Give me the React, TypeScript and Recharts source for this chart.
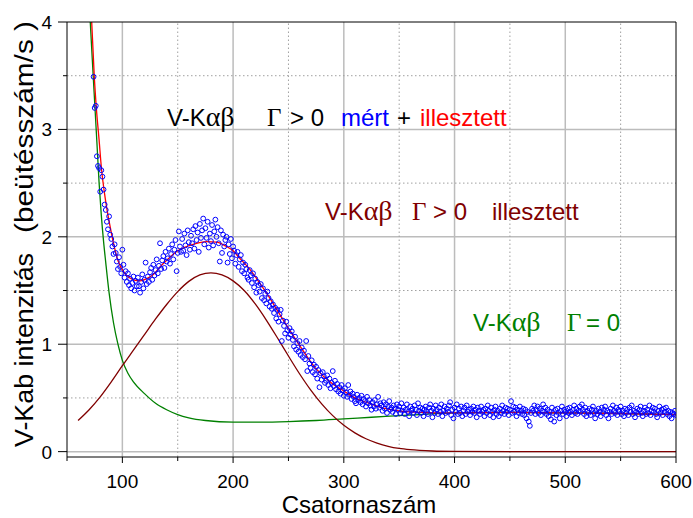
import React from 'react'
import {
  ComposedChart,
  Line,
  Scatter,
  XAxis,
  YAxis,
  CartesianGrid,
} from 'recharts'

// measured counts, one value per channel starting at channel 74
const measuredStart = 74
const measured = [
  3.49, 3.2, 3.22, 2.75, 2.66, 2.64, 2.42, 2.62, 2.56, 2.44,
  2.3, 2.25, 2.14, 2.07, 2.19, 2.02, 1.98, 1.91, 1.84, 1.93,
  1.85, 1.77, 1.7, 1.81, 1.72, 1.66, 1.88, 1.74, 1.62, 1.68,
  1.58, 1.66, 1.55, 1.61, 1.52, 1.57, 1.63, 1.5, 1.59, 1.54,
  1.62, 1.54, 1.48, 1.58, 1.65, 1.52, 1.6, 1.76, 1.56, 1.63,
  1.58, 1.67, 1.71, 1.6, 1.74, 1.64, 1.69, 1.79, 1.66, 1.73,
  1.94, 1.7, 1.78, 1.82, 1.71, 1.86, 1.77, 1.8, 1.89, 1.75,
  1.84, 1.93, 1.79, 1.88, 1.97, 1.68, 1.85, 2.05, 1.91, 1.86,
  1.98, 1.87, 2.03, 1.92, 1.83, 2.06, 1.95, 1.88, 2.01, 1.94,
  2.07, 1.89, 2.1, 1.97, 2.04, 1.86, 2.12, 1.99, 2.06, 2.17,
  1.93, 2.08, 1.99, 2.14, 1.9, 2.03, 1.96, 2.11, 1.92, 2.05,
  2.16, 2.0, 2.09, 1.94, 1.77, 2.06, 1.85, 2.02, 1.91, 1.97,
  2.0, 1.76, 1.93, 1.84, 1.98, 1.8, 1.91, 1.87, 1.75, 1.83,
  1.86, 1.72, 1.79, 1.83, 1.68, 1.76, 1.66, 1.74, 1.7, 1.62,
  1.6, 1.69, 1.64, 1.57, 1.66, 1.53, 1.61, 1.48, 1.58, 1.55,
  1.49, 1.56, 1.43, 1.52, 1.41, 1.47, 1.38, 1.49, 1.43, 1.35,
  1.4, 1.33, 1.37, 1.29, 1.34, 1.24, 1.32, 1.21, 1.28, 1.32,
  1.03, 1.22, 1.17, 1.1, 1.21, 1.13, 1.06, 1.15, 1.09, 1.12,
  1.04, 0.98, 1.07, 0.95, 1.01, 0.93, 1.03, 0.9, 0.97, 0.88,
  0.94, 0.86, 1.03, 0.75, 0.89, 0.82, 0.78, 0.85, 0.74, 0.81,
  0.72, 0.79, 0.68, 0.76, 0.6, 0.73, 0.67, 0.74, 0.7, 0.64,
  0.66, 0.71, 0.62, 0.68, 0.59, 0.64, 0.75, 0.61, 0.66, 0.58,
  0.63, 0.56, 0.6, 0.54, 0.62, 0.57, 0.52, 0.59, 0.55, 0.51,
  0.62, 0.53, 0.56, 0.49, 0.54, 0.51, 0.47, 0.45, 0.53, 0.48,
  0.5, 0.46, 0.52, 0.44, 0.49, 0.47, 0.42, 0.51, 0.45, 0.48,
  0.43, 0.39, 0.46, 0.42, 0.48, 0.4, 0.44, 0.51, 0.41, 0.45,
  0.43, 0.38, 0.46, 0.4, 0.44, 0.36, 0.42, 0.47, 0.39, 0.41,
  0.37, 0.43, 0.4, 0.35, 0.44, 0.39, 0.42, 0.36, 0.45, 0.38,
  0.41, 0.35, 0.39, 0.44, 0.37, 0.33, 0.42, 0.38, 0.4, 0.36,
  0.43, 0.39, 0.34, 0.45, 0.38, 0.41, 0.36, 0.4, 0.33, 0.39,
  0.42, 0.37, 0.35, 0.41, 0.44, 0.38, 0.32, 0.4, 0.36, 0.43,
  0.39, 0.35, 0.41, 0.37, 0.44, 0.33, 0.38, 0.42, 0.36, 0.4,
  0.37, 0.43, 0.46, 0.34, 0.39, 0.31, 0.41, 0.37, 0.44, 0.35,
  0.4, 0.36, 0.42, 0.33, 0.38, 0.41, 0.35, 0.43, 0.37, 0.39,
  0.34, 0.4, 0.37, 0.42, 0.36, 0.39, 0.32, 0.41, 0.38, 0.35,
  0.42, 0.37, 0.39, 0.33, 0.4, 0.36, 0.43, 0.38, 0.34, 0.41,
  0.37, 0.32, 0.39, 0.42, 0.35, 0.38, 0.33, 0.4, 0.36, 0.43,
  0.38, 0.35, 0.41, 0.37, 0.4, 0.34, 0.39, 0.47, 0.36, 0.42,
  0.37, 0.41, 0.33, 0.39, 0.36, 0.42, 0.38, 0.35, 0.4, 0.34,
  0.39, 0.31, 0.37, 0.28, 0.24, 0.36, 0.4, 0.38, 0.43, 0.35,
  0.39, 0.42, 0.36, 0.4, 0.34, 0.38, 0.44, 0.37, 0.41, 0.35,
  0.39, 0.33, 0.37, 0.3, 0.41, 0.36, 0.28, 0.39, 0.34, 0.4,
  0.36, 0.31, 0.38, 0.42, 0.35, 0.39, 0.37, 0.33, 0.4, 0.36,
  0.41, 0.37, 0.34, 0.39, 0.43, 0.36, 0.4, 0.35, 0.38, 0.42,
  0.37, 0.44, 0.39, 0.35, 0.41, 0.33, 0.38, 0.36, 0.4, 0.34,
  0.39, 0.42, 0.36, 0.31, 0.38, 0.35, 0.4, 0.37, 0.33, 0.41,
  0.36, 0.39, 0.42, 0.34, 0.38, 0.31, 0.37, 0.4, 0.35, 0.43,
  0.38, 0.36, 0.41, 0.34, 0.39, 0.37, 0.42, 0.35, 0.38, 0.33,
  0.4, 0.36, 0.39, 0.34, 0.41, 0.37, 0.43, 0.35, 0.38, 0.32,
  0.37, 0.4, 0.35, 0.39, 0.42, 0.36, 0.33, 0.38, 0.41, 0.35,
  0.39, 0.36, 0.43, 0.34, 0.38, 0.41, 0.37, 0.4, 0.35, 0.32,
  0.38, 0.42, 0.36, 0.39, 0.34, 0.4, 0.37, 0.41, 0.35, 0.38,
  0.33, 0.37, 0.31, 0.36, 0.35, 0.38, 0.34,
]

// fitted total (red)
const fitX = [72.3, 74.6, 76.5, 79, 81, 84.5, 90, 96, 103, 110, 116, 122, 128, 135, 143, 150, 158, 167, 176, 185, 194, 200, 206, 215, 222, 230, 245, 260, 275, 290, 300, 310, 323, 338, 353, 370, 400, 450, 500, 550, 600]
const fitY = [4.0, 3.5, 3.2, 2.9, 2.65, 2.36, 2.04, 1.78, 1.65, 1.6, 1.59, 1.61, 1.65, 1.73, 1.81, 1.87, 1.91, 1.94, 1.955, 1.95, 1.91, 1.87, 1.8, 1.7, 1.6, 1.48, 1.23, 0.99, 0.77, 0.63, 0.565, 0.5, 0.45, 0.4, 0.375, 0.365, 0.36, 0.365, 0.36, 0.355, 0.345]

// Gamma > 0 component (brown)
const peakX = [60, 70, 80, 90, 100, 110, 120, 130, 140, 150, 160, 170, 180, 190, 200, 210, 220, 230, 240, 250, 260, 270, 280, 290, 300, 310, 320, 330, 340, 350, 360, 380, 400, 450, 500, 600]
const peakY = [0.29, 0.39, 0.51, 0.65, 0.8, 0.945, 1.09, 1.235, 1.37, 1.49, 1.585, 1.645, 1.665, 1.645, 1.59, 1.5, 1.375, 1.225, 1.06, 0.89, 0.725, 0.575, 0.445, 0.335, 0.245, 0.175, 0.12, 0.08, 0.05, 0.03, 0.018, 0.006, 0.002, 0, 0, 0]

// Gamma = 0 component (green)
const baseX = [71, 73, 75, 77, 79, 81, 83, 85, 88, 92, 96, 100, 105, 110, 120, 130, 140, 150, 160, 175, 200, 225, 250, 275, 300, 325, 350, 375, 400, 450, 500, 550, 600]
const baseY = [4.0, 3.62, 3.25, 2.88, 2.5, 2.2, 1.96, 1.76, 1.48, 1.2, 1.0, 0.85, 0.73, 0.65, 0.54, 0.45, 0.39, 0.345, 0.315, 0.29, 0.275, 0.275, 0.28, 0.29, 0.305, 0.32, 0.335, 0.35, 0.36, 0.365, 0.36, 0.355, 0.345]

const xDomain = [50, 600]
const yDomain = [-0.05, 4]
const xTicks = [50, 100, 150, 200, 250, 300, 350, 400, 450, 500, 550, 600]
const yTicks = [0, 0.5, 1, 1.5, 2, 2.5, 3, 3.5, 4]
const xMajorGrid = [100, 200, 300, 400, 500]
const xMinorGrid = [150, 250, 350, 450, 550]
const yMajorGrid = [0, 1, 2, 3]
const yMinorGrid = [0.5, 1.5, 2.5, 3.5]

const measuredPoints = measured.map((y, i) => ({ x: measuredStart + i, y }))
const fitPoints = fitX.map((x, i) => ({ x, y: fitY[i] }))
const peakPoints = peakX.map((x, i) => ({ x, y: peakY[i] }))
const basePoints = baseX.map((x, i) => ({ x, y: baseY[i] }))
// dotted minor grid, drawn as two-point lines through the chart scales
const minorV = xMinorGrid.map((x) => [{ x, y: yDomain[0] }, { x, y: yDomain[1] }])
const minorH = yMinorGrid.map((y) => [{ x: xDomain[0], y }, { x: xDomain[1], y }])

const SANS = '"Liberation Sans", Arial, sans-serif'
const SERIF = '"Liberation Serif", "Times New Roman", serif'

const BottomTick = (props: any) => {
  const { x, y, payload } = props
  const major = payload.value % 100 === 0
  return (
    <g>
      <line x1={x} x2={x} y1={y} y2={y + (major ? 6 : 4)} stroke="#000" />
      {major && (
        <text x={x} y={y + 31} textAnchor="middle" fontSize={19} fontFamily={SANS} fill="#000">
          {payload.value}
        </text>
      )}
    </g>
  )
}

const TopTick = (props: any) => {
  const { x, y, payload } = props
  const major = payload.value % 100 === 0
  return <line x1={x} x2={x} y1={y} y2={y + (major ? 5 : 3)} stroke="#000" />
}

const LeftTick = (props: any) => {
  const { x, y, payload } = props
  const major = Number.isInteger(payload.value)
  return (
    <g>
      <line x1={x - (major ? 9 : 4)} x2={x} y1={y} y2={y} stroke="#000" />
      {major && (
        <text x={x - 15} y={y} dy={7} textAnchor="end" fontSize={19} fontFamily={SANS} fill="#000">
          {payload.value}
        </text>
      )}
    </g>
  )
}

const RightTick = (props: any) => {
  const { x, y, payload } = props
  const major = Number.isInteger(payload.value)
  return <line x1={x - (major ? 5 : 3)} x2={x} y1={y} y2={y} stroke="#000" />
}

const Dot = (props: any) => (
  <circle cx={props.cx} cy={props.cy} r={2.4} fill="none" stroke="#0000ff" strokeWidth={1} />
)

export default function App() {
  return (
    <div style={{ position: 'absolute', left: 0, top: 0, width: 693, height: 518, background: '#fff' }}>
      <ComposedChart width={693} height={518} margin={{ top: 0, right: 0, bottom: 0, left: 0 }}>
        <CartesianGrid
          horizontalValues={yMajorGrid}
          verticalValues={xMajorGrid}
          stroke="#bcbcbc"
          strokeWidth={1.5}
        />
        <XAxis
          dataKey="x"
          type="number"
          domain={xDomain}
          ticks={xTicks}
          interval={0}
          allowDataOverflow
          height={61}
          tickSize={0}
          tickMargin={0}
          tickLine={false}
          tick={<BottomTick />}
          axisLine={{ stroke: '#000' }}
        />
        <XAxis
          xAxisId="top"
          orientation="top"
          type="number"
          domain={xDomain}
          ticks={xTicks}
          interval={0}
          height={22}
          tickSize={0}
          tickMargin={0}
          tickLine={false}
          tick={<TopTick />}
          axisLine={{ stroke: '#000' }}
        />
        <YAxis
          dataKey="y"
          type="number"
          domain={yDomain}
          ticks={yTicks}
          interval={0}
          allowDataOverflow
          width={67}
          tickSize={0}
          tickMargin={0}
          tickLine={false}
          tick={<LeftTick />}
          axisLine={{ stroke: '#000' }}
        />
        <YAxis
          yAxisId="right"
          orientation="right"
          type="number"
          domain={yDomain}
          ticks={yTicks}
          interval={0}
          width={17}
          tickSize={0}
          tickMargin={0}
          tickLine={false}
          tick={<RightTick />}
          axisLine={{ stroke: '#000' }}
        />
        {minorV.map((d, i) => (
          <Line key={'mv' + i} data={d} dataKey="y" stroke="#a0a0a0" strokeWidth={1} strokeDasharray="1.5 2.5" dot={false} activeDot={false} isAnimationActive={false} />
        ))}
        {minorH.map((d, i) => (
          <Line key={'mh' + i} data={d} dataKey="y" stroke="#a0a0a0" strokeWidth={1} strokeDasharray="1.5 2.5" dot={false} activeDot={false} isAnimationActive={false} />
        ))}
        <Scatter data={measuredPoints} dataKey="y" shape={<Dot />} isAnimationActive={false} />
        <Line data={basePoints} dataKey="y" type="monotone" stroke="#008000" strokeWidth={1.3} dot={false} isAnimationActive={false} />
        <Line data={peakPoints} dataKey="y" type="monotone" stroke="#800000" strokeWidth={1.3} dot={false} isAnimationActive={false} />
        <Line data={fitPoints} dataKey="y" type="monotone" stroke="#ff0000" strokeWidth={1.3} dot={false} isAnimationActive={false} />
      </ComposedChart>
      <svg width={693} height={518} style={{ position: 'absolute', left: 0, top: 0, pointerEvents: 'none' }}>
        <text fontSize={24} fontFamily={SANS} y={126} fill="#000">
          <tspan x={167}>V-K</tspan>
          <tspan fontFamily={SERIF} fontSize={28}>αβ</tspan>
          <tspan x={267} fontFamily={SERIF} fontSize={25}>Γ</tspan>
          <tspan x={290}>&gt; 0</tspan>
          <tspan x={341} fill="#0000ff">mért</tspan>
          <tspan x={397}>+</tspan>
          <tspan x={420} fill="#ff0000">illesztett</tspan>
        </text>
        <text fontSize={24} fontFamily={SANS} y={220} fill="#800000">
          <tspan x={325}>V-K</tspan>
          <tspan fontFamily={SERIF} fontSize={28}>αβ</tspan>
          <tspan x={412} fontFamily={SERIF} fontSize={25}>Γ</tspan>
          <tspan x={433}>&gt; 0</tspan>
          <tspan x={492}>illesztett</tspan>
        </text>
        <text fontSize={24} fontFamily={SANS} y={331} fill="#008000">
          <tspan x={473}>V-K</tspan>
          <tspan fontFamily={SERIF} fontSize={28}>αβ</tspan>
          <tspan x={567} fontFamily={SERIF} fontSize={25}>Γ</tspan>
          <tspan x={586}>= 0</tspan>
        </text>
        <text x={359} y={513} textAnchor="middle" fontSize={24} fontFamily={SANS} fill="#000">
          Csatornaszám
        </text>
        <g transform="rotate(-90)">
          <text x={-447} y={33} fontSize={26} fontFamily={SANS} fill="#000" textLength={194} lengthAdjust="spacingAndGlyphs">
            V-Kab intenzitás
          </text>
          <text x={-233} y={33} fontSize={26} fontFamily={SANS} fill="#000" textLength={212} lengthAdjust="spacingAndGlyphs" style={{ whiteSpace: 'pre' }}>
            {'(beütésszám/s )'}
          </text>
        </g>
      </svg>
    </div>
  )
}
